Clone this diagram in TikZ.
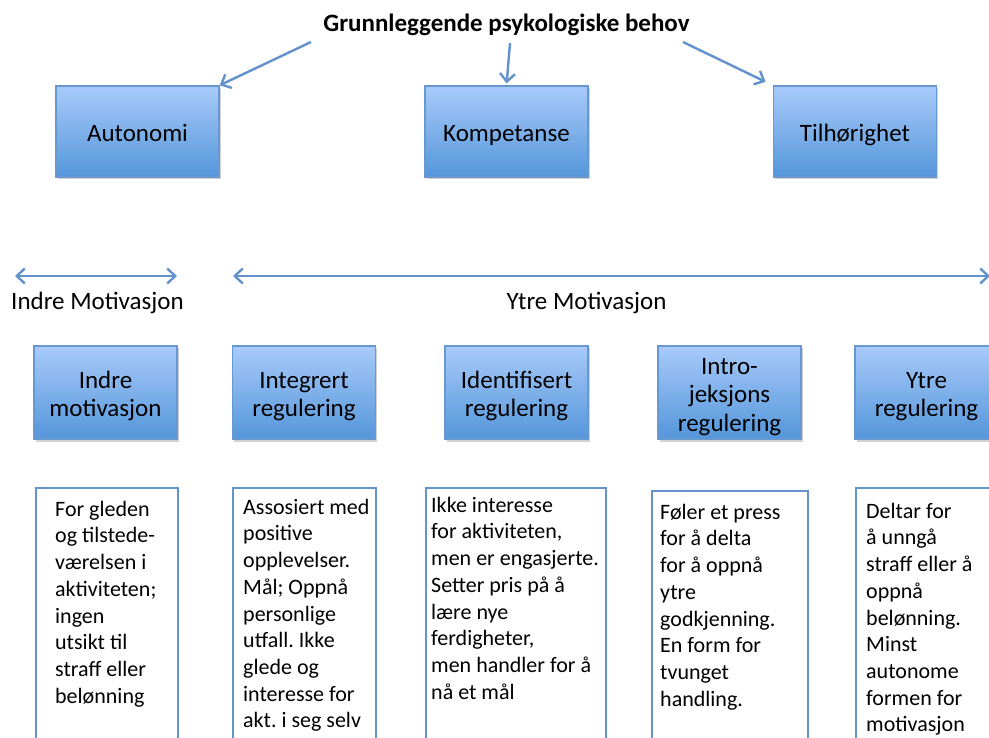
\documentclass[tikz,border=0pt]{standalone}
\usepackage{fontspec}
\setmainfont{Carlito}
\usetikzlibrary{arrows.meta,shadows}
\frenchspacing

\definecolor{boxtop}{RGB}{168,202,250}
\definecolor{boxbot}{RGB}{84,150,218}
\definecolor{boxedge}{RGB}{104,152,208}
\definecolor{linkblue}{RGB}{98,146,204}
\definecolor{descedge}{RGB}{100,148,206}

\tikzset{
  needbox/.style={rectangle, draw=boxedge, line width=1.4pt,
    top color=boxtop, bottom color=boxbot, inner sep=0pt,
    align=center, font=\fontsize{25}{28.5}\selectfont,
    drop shadow={shadow xshift=1.5pt, shadow yshift=-2.5pt, opacity=0.25, fill=black!70}},
  topbox/.style={needbox, minimum width=163pt, minimum height=91pt},
  regbox/.style={needbox, minimum width=143pt, minimum height=93pt},
  descbox/.style={rectangle, draw=descedge, line width=1.8pt, fill=white, inner sep=0pt},
  desctext/.style={anchor=north west, inner sep=0pt, align=left,
    font=\fontsize{22}{26.7}\selectfont},
  link/.style={draw=linkblue, line width=2.4pt,
    -{Straight Barb[length=8pt,width=15pt]}},
  span/.style={draw=linkblue, line width=2.4pt,
    {Straight Barb[length=8pt,width=15pt]}-{Straight Barb[length=8pt,width=15pt]}},
  label/.style={inner sep=0pt, font=\fontsize{25}{28.5}\selectfont}
}
% fixed line heights so box captions sit at the same level
\newcommand{\capup}{\rule{0pt}{25pt}}
\newcommand{\capdown}{\rule[-5pt]{0pt}{5pt}}
\newcommand{\firstline}{\rule{0pt}{19pt}}

\begin{document}
\begin{tikzpicture}[x=1pt,y=-1pt]
\useasboundingbox (0,0) rectangle (989,738);
\clip (0,0) rectangle (989,738);

% heading and the three basic needs
\node[label, anchor=base, font=\fontsize{25}{28.5}\selectfont\bfseries] (title) at (506.5,31.5) {Grunnleggende psykologiske behov};

\node[topbox] (auto) at (137.5,131.5) {\capup Autonomi\capdown};
\node[topbox] (komp) at (506.5,131.5) {\capup Kompetanse\capdown};
\node[topbox] (tilh) at (855,131.5) {\capup Tilhørighet\capdown};

\coordinate (fromL) at (311,42);
\coordinate (fromM) at (510,43);
\coordinate (fromR) at (683,42);
\draw[link] (fromL) -- (auto.north east);
\draw[link, shorten >=2pt] (fromM) -- (komp.north);
\draw[link, shorten >=8pt] (fromR) -- (tilh.north west);

% the motivation continuum
\coordinate (inA) at (15,276);
\coordinate (inB) at (177,276);
\coordinate (exA) at (233,276);
\coordinate (exB) at (990,276);
\draw[span] (inA) -- (inB);
\draw[span] (exA) -- (exB);

\node[label, anchor=base] (inlab) at (97.5,309.5) {Indre Motivasjon};
\node[label, anchor=base] (exlab) at (586.5,309.5) {Ytre Motivasjon};

% regulation types
\node[regbox] (r1) at (105.5,392.5) {\capup Indre\\motivasjon\capdown};
\node[regbox] (r2) at (304,392.5) {\capup Integrert\\regulering\capdown};
\node[regbox] (r3) at (516.5,392.5) {\capup Identifisert\\regulering\capdown};
\node[regbox] (r4) at (729.5,392.5) {\capup Intro-\\jeksjons\\regulering\capdown};
\node[regbox] (r5) at (926.5,392.5) {\capup Ytre\\regulering\capdown};

% descriptions
\node[descbox, minimum width=142pt, minimum height=280pt, anchor=north west] (d1) at (35,487) {};
\node[descbox, minimum width=143pt, minimum height=280pt, anchor=north west] (d2) at (232,487) {};
\node[descbox, minimum width=180pt, minimum height=280pt, anchor=north west] (d3) at (425,487) {};
\node[descbox, minimum width=156pt, minimum height=280pt, anchor=north west] (d4) at (651,490) {};
\node[descbox, minimum width=150pt, minimum height=280pt, anchor=north west] (d5) at (855,487) {};

\node[desctext] (t1) at ([shift={(20,10)}]d1.north west)
  {\firstline For gleden\\og tilstede-\\værelsen i\\aktiviteten;\\ingen\\utsikt til\\straff eller\\belønning};
\node[desctext] (t2) at ([shift={(11,8)}]d2.north west)
  {\firstline Assosiert med\\positive\\opplevelser.\\Mål; Oppnå\\personlige\\utfall. Ikke\\glede og\\interesse for\\akt. i seg selv};
\node[desctext] (t3) at ([shift={(6,6)}]d3.north west)
  {\firstline Ikke interesse\\for aktiviteten,\\men er engasjerte.\\Setter pris på å\\lære nye\\ferdigheter,\\men handler for å\\nå et mål};
\node[desctext] (t4) at ([shift={(9,10)}]d4.north west)
  {\firstline Føler et press\\for å delta\\for å oppnå\\ytre\\godkjenning.\\En form for\\tvunget\\handling.};
\node[desctext] (t5) at ([shift={(11,12)}]d5.north west)
  {\firstline Deltar for\\å unngå\\straff eller å\\oppnå\\belønning.\\Minst\\autonome\\formen for\\motivasjon};
\end{tikzpicture}
\end{document}
